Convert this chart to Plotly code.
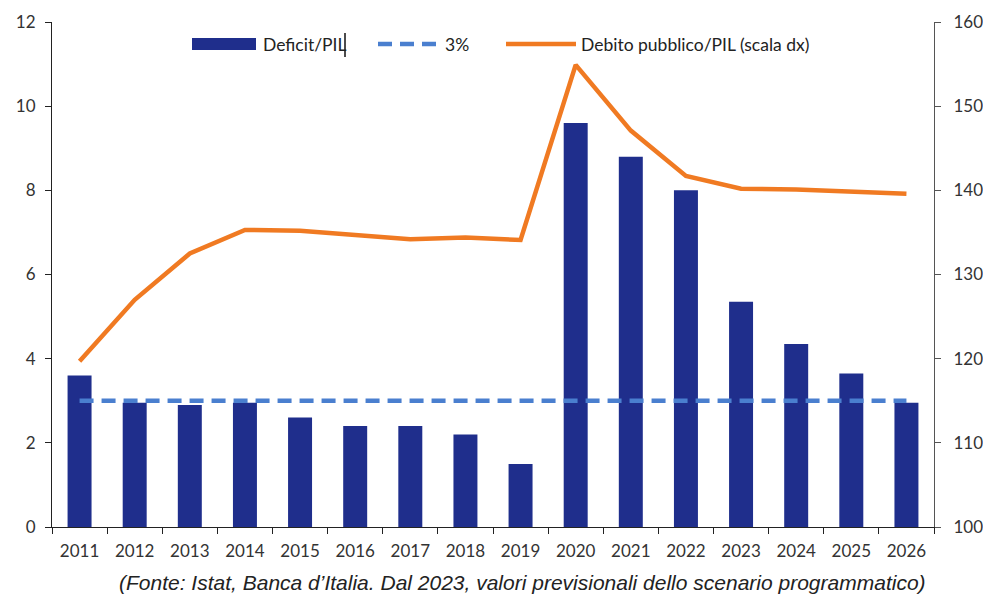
import plotly.graph_objects as go

# Dati: deficit e debito pubblico in rapporto al PIL (%)
anni = ["2011", "2012", "2013", "2014", "2015", "2016", "2017", "2018",
        "2019", "2020", "2021", "2022", "2023", "2024", "2025", "2026"]
deficit_pil = [3.6, 2.95, 2.9, 2.95, 2.6, 2.4, 2.4, 2.2,
               1.5, 9.6, 8.8, 8.0, 5.35, 4.35, 3.65, 2.95]
soglia_3 = [3.0] * len(anni)
debito_pil = [119.7, 127.0, 132.5, 135.3, 135.2, 134.7, 134.2, 134.4,
              134.1, 154.9, 147.1, 141.7, 140.2, 140.1, 139.9, 139.6]

left_ticks = [0, 2, 4, 6, 8, 10, 12]
right_ticks = [100, 110, 120, 130, 140, 150, 160]

NAVY = "#1f2e8c"
BLUE = "#4a7fcf"
ORANGE = "#f07a22"
FONT = "Lato, 'Open Sans', sans-serif"

W, H = 983, 594
L, R, T, B = 52, 49, 22, 67
PW, PH = W - L - R, H - T - B


def px(x):
    return (x - L) / PW


def py(y):
    return (H - B - y) / PH


fig = go.Figure()

fig.add_trace(go.Bar(
    x=anni, y=deficit_pil, name="Deficit/PIL",
    marker=dict(color=NAVY, line=dict(width=0)),
    yaxis="y", showlegend=False,
))
fig.add_trace(go.Scatter(
    x=anni, y=soglia_3, name="3%", mode="lines",
    line=dict(color=BLUE, width=4.5, dash="14px,8px"),
    yaxis="y", showlegend=False,
))
fig.add_trace(go.Scatter(
    x=anni, y=debito_pil, name="Debito pubblico/PIL (scala dx)", mode="lines",
    line=dict(color=ORANGE, width=4.5),
    yaxis="y2", showlegend=False,
))

# Legenda in alto
shapes = [
    dict(type="rect", xref="paper", yref="paper",
         x0=px(192), x1=px(256), y0=py(50), y1=py(38),
         fillcolor=NAVY, line=dict(width=0)),
    dict(type="line", xref="paper", yref="paper",
         x0=px(345), x1=px(345), y0=py(57), y1=py(33),
         line=dict(color="#111111", width=1.5)),
    dict(type="line", xref="paper", yref="paper",
         x0=px(378), x1=px(438), y0=py(44), y1=py(44),
         line=dict(color=BLUE, width=4.5, dash="14px,8px")),
    dict(type="line", xref="paper", yref="paper",
         x0=px(506), x1=px(576), y0=py(44), y1=py(44),
         line=dict(color=ORANGE, width=4.5)),
]
legend_texts = [
    (261, "Deficit/PIL"),
    (443, "3%"),
    (579, "Debito pubblico/PIL (scala dx)"),
]
annotations = [
    dict(xref="paper", yref="paper", x=px(x0), y=py(44), text=t,
         showarrow=False, xanchor="left", yanchor="middle",
         font=dict(family=FONT, size=17.5, color="#222222"))
    for x0, t in legend_texts
]
annotations.append(dict(
    xref="paper", yref="paper", x=px(522), y=py(582),
    text="(Fonte: Istat, Banca d\u2019Italia. Dal 2023, valori previsionali dello scenario programmatico)",
    showarrow=False, xanchor="center", yanchor="middle",
    font=dict(family="'Liberation Sans', Arial, sans-serif", size=21,
              color="#222222", style="italic"),
))

tick_font = dict(family=FONT, size=17, color="#333333")

fig.update_layout(
    width=W, height=H,
    margin=dict(l=L, r=R, t=T, b=B, pad=0, autoexpand=False),
    paper_bgcolor="white", plot_bgcolor="white",
    bargap=0.565,
    showlegend=False,
    shapes=shapes,
    annotations=annotations,
    font=dict(family=FONT, size=15, color="#333333"),
    xaxis=dict(
        type="category", range=[-0.5, len(anni) - 0.5], automargin=False,
        showline=True, linecolor="#222222", linewidth=1.2,
        ticks="outside", tickson="boundaries", ticklen=6,
        tickcolor="#222222", showgrid=False, zeroline=False,
        tickfont=tick_font, ticklabelstandoff=8,
    ),
    yaxis=dict(
        range=[0, 12], tickvals=left_ticks, automargin=False,
        showline=True, linecolor="#222222", linewidth=1.2,
        ticks="outside", ticklen=6, tickcolor="#222222",
        showgrid=False, zeroline=False,
        tickfont=tick_font, ticklabelstandoff=6,
    ),
    yaxis2=dict(
        range=[100, 160], tickvals=right_ticks, automargin=False,
        overlaying="y", side="right",
        showline=True, linecolor="#555555", linewidth=1.2,
        ticks="outside", ticklen=6, tickcolor="#555555",
        showgrid=False, zeroline=False,
        tickfont=tick_font, ticklabelstandoff=9,
    ),
)

fig.write_html("out.html")
